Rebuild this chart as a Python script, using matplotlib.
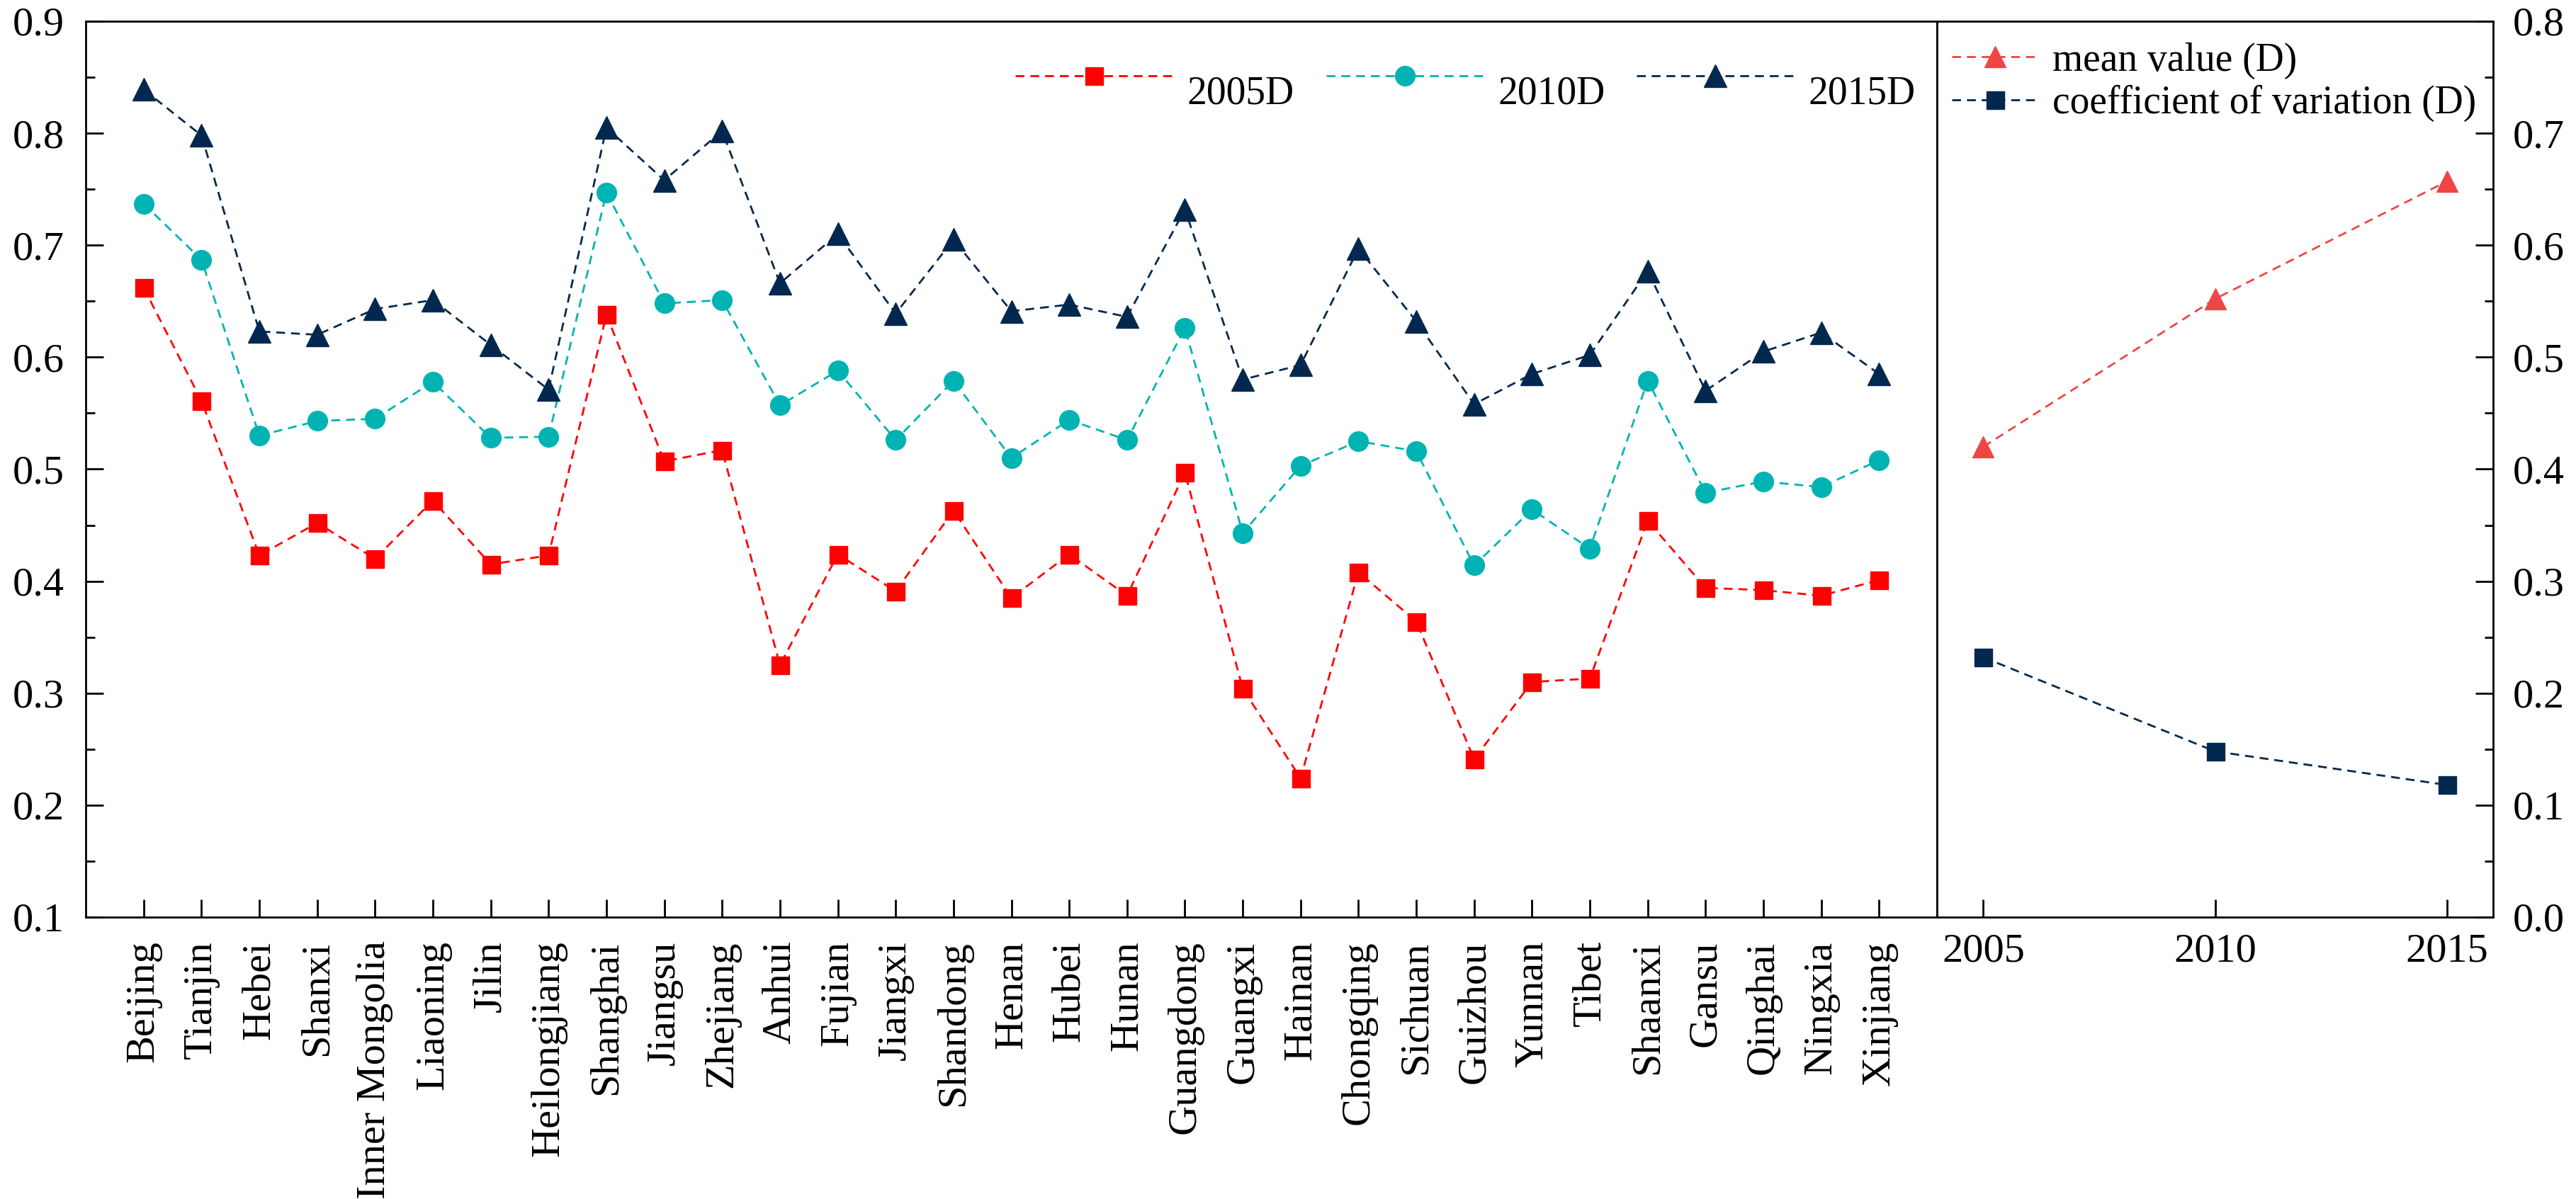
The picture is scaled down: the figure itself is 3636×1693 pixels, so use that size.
import matplotlib
matplotlib.use("Agg")
import matplotlib.pyplot as plt
from matplotlib.ticker import MultipleLocator, FormatStrFormatter

plt.rcParams['font.family'] = ['Liberation Serif', 'DejaVu Serif']

# provinces and coupling degree D for each year
provinces = ['Beijing', 'Tianjin', 'Hebei', 'Shanxi', 'Inner Mongolia', 'Liaoning', 'Jilin',
             'Heilongjiang', 'Shanghai', 'Jiangsu', 'Zhejiang', 'Anhui', 'Fujian', 'Jiangxi',
             'Shandong', 'Henan', 'Hubei', 'Hunan', 'Guangdong', 'Guangxi', 'Hainan',
             'Chongqing', 'Sichuan', 'Guizhou', 'Yunnan', 'Tibet', 'Shaanxi', 'Gansu',
             'Qinghai', 'Ningxia', 'Xinjiang']
d2005 = [0.662, 0.561, 0.423, 0.452, 0.420, 0.472, 0.415, 0.423, 0.638, 0.507, 0.517,
         0.325, 0.424, 0.391, 0.463, 0.385, 0.424, 0.387, 0.497, 0.304, 0.224, 0.408,
         0.364, 0.241, 0.310, 0.313, 0.454, 0.394, 0.392, 0.387, 0.401]
d2010 = [0.737, 0.687, 0.530, 0.543, 0.545, 0.578, 0.528, 0.529, 0.747, 0.648, 0.651,
         0.557, 0.588, 0.526, 0.579, 0.510, 0.544, 0.526, 0.626, 0.443, 0.503, 0.525,
         0.516, 0.414, 0.464, 0.429, 0.579, 0.479, 0.489, 0.484, 0.508]
d2015 = [0.839, 0.798, 0.623, 0.620, 0.643, 0.651, 0.611, 0.571, 0.805, 0.758, 0.802,
         0.666, 0.710, 0.639, 0.705, 0.641, 0.647, 0.636, 0.732, 0.580, 0.593, 0.697,
         0.632, 0.558, 0.585, 0.602, 0.677, 0.570, 0.605, 0.622, 0.585]

years = [2005, 2010, 2015]
mean_d = [0.420, 0.552, 0.657]
cv_d = [0.232, 0.148, 0.118]

red = '#FF0000'
teal = '#00B3B3'
navy = '#03284F'
lred = '#F04545'

fs_tick = 42
fs_cat = 42
fs_leg = 40

fig = plt.figure(figsize=(36.37, 16.93), dpi=100)
ax1 = fig.add_axes([0.0333, 0.2351, 0.7184, 0.7472])
ax2 = fig.add_axes([0.7517, 0.2351, 0.2159, 0.7472])

x = list(range(len(provinces)))
ax1.plot(x, d2005, ls='--', dashes=(4.5, 3), lw=2, color=red, marker='s', ms=18, mec=red, label='2005D')
ax1.plot(x, d2010, ls='--', dashes=(4.5, 3), lw=2, color=teal, marker='o', ms=20, mec=teal, label='2010D')
ax1.plot(x, d2015, ls='--', dashes=(4.5, 3), lw=2, color=navy, marker='^', ms=23, mec=navy, label='2015D')

ax1.set_xlim(-1, 31)
ax1.set_ylim(0.1, 0.9)
ax1.set_xticks(x)
ax1.set_xticklabels(provinces, rotation=90)
ax1.yaxis.set_major_locator(MultipleLocator(0.1))
ax1.yaxis.set_minor_locator(MultipleLocator(0.05))
ax1.yaxis.set_major_formatter(FormatStrFormatter('%.1f'))
ax1.tick_params(which='both', direction='in', top=False, right=False, width=2)
ax1.tick_params(which='major', length=18)
ax1.tick_params(which='minor', length=9)
ax1.tick_params(axis='y', pad=22, labelsize=fs_tick)
ax1.tick_params(axis='x', pad=24, labelsize=fs_cat)

leg1 = ax1.legend(loc='center right', bbox_to_anchor=(0.9885, 0.935), ncol=3, frameon=False,
                  fontsize=fs_leg, handlelength=4.0, handletextpad=0.37, columnspacing=0.8,
                  borderpad=0, borderaxespad=0)
for t in leg1.get_texts():
    t.set_y(-20)

ax2.plot(years, mean_d, ls='--', dashes=(4.5, 3), lw=2, color=lred, marker='^', ms=22, mec=lred,
         label='mean value (D)')
ax2.plot(years, cv_d, ls='--', dashes=(4.5, 3), lw=2, color=navy, marker='s', ms=18, mec=navy,
         label='coefficient of variation (D)')
ax2.set_xlim(2004, 2016)
ax2.set_ylim(0, 0.8)
ax2.set_xticks(years)
ax2.yaxis.set_major_locator(MultipleLocator(0.1))
ax2.yaxis.set_minor_locator(MultipleLocator(0.05))
ax2.yaxis.set_major_formatter(FormatStrFormatter('%.1f'))
ax2.tick_params(which='both', direction='in', top=False, left=False, right=True,
                labelleft=False, labelright=True, width=2)
ax2.tick_params(which='major', length=18)
ax2.tick_params(which='minor', length=9)
ax2.tick_params(axis='y', pad=20, labelsize=fs_tick)
ax2.tick_params(axis='x', pad=16, labelsize=fs_tick)

ax2.legend(loc='center left', bbox_to_anchor=(0.027, 0.932), frameon=False, fontsize=fs_leg,
           handlelength=2.2, handletextpad=0.35, labelspacing=0.15, borderpad=0, borderaxespad=0)

for a in (ax1, ax2):
    for s in a.spines.values():
        s.set_linewidth(2)

fig.savefig('out.png', dpi=100)
